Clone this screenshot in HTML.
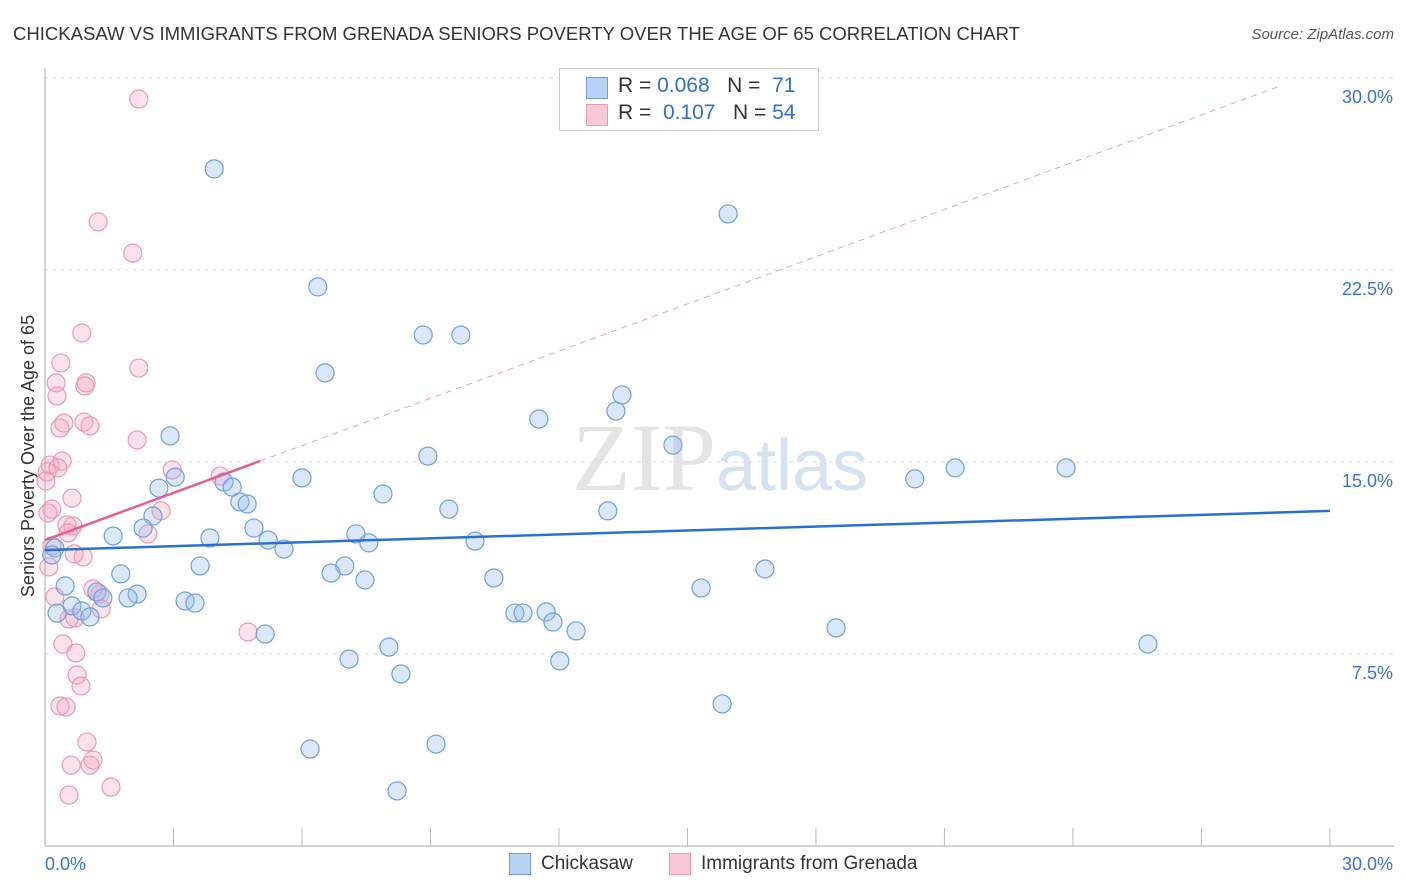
<!DOCTYPE html>
<html><head><meta charset="utf-8"><style>
body{margin:0;background:#fff;font-family:"Liberation Sans",sans-serif}
#wrap{position:relative;width:1406px;height:892px;overflow:hidden}
</style></head><body>
<div id="wrap">
<svg id="svg" width="1406" height="892" xmlns="http://www.w3.org/2000/svg">
<text x="13" y="40" font-size="18" fill="#333" textLength="1007" lengthAdjust="spacingAndGlyphs">CHICKASAW VS IMMIGRANTS FROM GRENADA SENIORS POVERTY OVER THE AGE OF 65 CORRELATION CHART</text>
<text x="1394" y="39" font-size="15" fill="#555" font-style="italic" text-anchor="end">Source: ZipAtlas.com</text>
<text x="720" y="490" font-size="96" fill="#e4e4e4" text-anchor="middle" font-family="Liberation Serif,serif">ZIP<tspan font-family="Liberation Sans,sans-serif" font-size="72" fill="#d6e2f2">atlas</tspan></text>
<text transform="translate(34,456) rotate(-90)" font-size="18" fill="#333" text-anchor="middle">Seniors Poverty Over the Age of 65</text>
<g id="grid"></g><g id="marks"></g>
</svg>
<div style="position:absolute;left:559px;top:68px;width:258px;height:61px;border:1px solid #ccc;background:#fff;font-size:21px;color:#333">
 <div style="position:absolute;left:26px;top:8px;width:20px;height:20px;background:#b8d3f5;border:1px solid #6f9fe0"></div>
 <div style="position:absolute;left:58px;top:5px">R = <span style="color:#2f6fd6">0.068</span>&nbsp;&nbsp;&nbsp;N = &nbsp;<span style="color:#2f6fd6">71</span></div>
 <div style="position:absolute;left:26px;top:35px;width:20px;height:20px;background:#f9c8d6;border:1px solid #eb9ab0"></div>
 <div style="position:absolute;left:58px;top:32px">R = &nbsp;<span style="color:#2f6fd6">0.107</span>&nbsp;&nbsp;&nbsp;N = <span style="color:#2f6fd6">54</span></div>
</div>
<div style="position:absolute;left:509px;top:853px;width:20px;height:20px;background:#b8d3f5;border:1px solid #6f9fe0"></div>
<div style="position:absolute;left:541px;top:853px;font-size:19px;color:#333">Chickasaw</div>
<div style="position:absolute;left:669px;top:853px;width:20px;height:20px;background:#f9c8d6;border:1px solid #eb9ab0"></div>
<div style="position:absolute;left:701px;top:853px;font-size:19px;color:#333">Immigrants from Grenada</div>
</div>
<script>
const blueXY=[[214,169],[728,214],[318,287],[423,335],[461,335],[325,373],[622,395],[616,411],[539,419],[170,436],[673,445],[428,456],[302,478],[175,477],[224,482],[232,487],[159,488],[383,494],[240,502],[247,504],[449,509],[608,511],[153,516],[143,528],[254,528],[356,534],[113,536],[210,538],[268,540],[369,543],[475,541],[284,549],[55,548],[52,555],[200,566],[345,566],[331,573],[765,569],[121,574],[494,578],[365,580],[65,586],[701,588],[97,592],[137,594],[128,598],[103,598],[185,601],[195,603],[72,606],[57,613],[82,611],[90,617],[515,613],[523,613],[546,612],[553,622],[836,628],[576,631],[265,634],[1148,644],[389,647],[349,659],[560,661],[401,674],[722,704],[310,749],[436,744],[397,791],[915,479],[955,468],[1066,468]];
const pinkXY=[[139,99],[98,222],[133,253],[82,333],[61,363],[139,368],[56,383],[86,383],[85,386],[57,396],[64,423],[84,422],[90,426],[60,428],[137,440],[62,461],[50,465],[172,470],[58,468],[47,472],[220,476],[46,481],[72,498],[52,509],[161,511],[48,513],[67,525],[73,526],[68,533],[148,534],[52,546],[74,554],[83,557],[49,567],[93,589],[100,594],[55,597],[101,609],[69,619],[75,618],[248,632],[63,644],[76,653],[77,675],[81,686],[60,706],[66,707],[87,742],[93,760],[90,765],[71,765],[111,787],[69,795]];
const blueX=blueXY.map(p=>+((p[0]-45)/42.83).toFixed(2));
const blueY=blueXY.map(p=>+((846-p[1])/25.6).toFixed(2));
const pinkX=pinkXY.map(p=>+((p[0]-45)/42.83).toFixed(2));
const pinkY=pinkXY.map(p=>+((846-p[1])/25.6).toFixed(2));
const yTicks=[7.5,15,22.5,30];
const yTickLabels=["7.5%","15.0%","22.5%","30.0%"];
const blueTrend=[11.56,13.09];
const pinkTrend=[11.95,0.615];
const sx=v=>45+v*42.83, sy=v=>846-v*25.6;
const NS="http://www.w3.org/2000/svg";
const g=document.getElementById('grid'), m=document.getElementById('marks');
function el(t,a,p){const e=document.createElementNS(NS,t);for(const k in a)e.setAttribute(k,a[k]);p.appendChild(e);return e;}
yTicks.forEach((v,i)=>{
 const l=el('line',{x1:45,x2:1394,y1:sy(v),y2:sy(v),stroke:'#ddd','stroke-dasharray':'4,4'},g);
 
 
 const t=el('text',{x:1393,y:sy(v)+25,'font-size':18,fill:'#3a72d8','text-anchor':'end'},g);
 t.textContent=yTickLabels[i];
 
 
});
let a=el('line',{x1:45,x2:45,y1:68,y2:846,stroke:'#aaa'},g);


a=el('line',{x1:45,x2:1394,y1:846,y2:846,stroke:'#aaa'},g);


for(let k=1;k<=10;k++){const t=el('line',{x1:sx(k*3),x2:sx(k*3),y1:828,y2:846,stroke:'#bbb'},g);
 
 }
[[45,'start','0.0%'],[1393,'end','30.0%']].forEach(d=>{const t=el('text',{x:d[0],y:870,'font-size':18,fill:'#3a72d8','text-anchor':d[1]},g);t.textContent=d[2];
 
 });
pinkX.forEach((x,i)=>{const c=el('circle',{cx:sx(x),cy:sy(pinkY[i]),r:9,fill:'rgba(245,160,185,0.3)',stroke:'#eb9ab0','stroke-width':1.2},m);
 
 });
blueX.forEach((x,i)=>{const c=el('circle',{cx:sx(x),cy:sy(blueY[i]),r:9,fill:'rgba(150,190,240,0.35)',stroke:'#6f9fe0','stroke-width':1.2},m);
 
 });
let t=el('line',{x1:sx(0),y1:sy(blueTrend[0]),x2:sx(30),y2:sy(blueTrend[1]),stroke:'#2a6fd6','stroke-width':2.5},m);


t=el('line',{x1:sx(5.02),y1:sy(pinkTrend[0]+pinkTrend[1]*5.02),x2:sx(28.8),y2:sy(pinkTrend[0]+pinkTrend[1]*28.8),stroke:'#e8a0b4','stroke-width':1,'stroke-dasharray':'6,5'},m);


t=el('line',{x1:sx(0),y1:sy(pinkTrend[0]),x2:sx(5.02),y2:sy(pinkTrend[0]+pinkTrend[1]*5.02),stroke:'#e5608a','stroke-width':2.5},m);


</script>
</body></html>
